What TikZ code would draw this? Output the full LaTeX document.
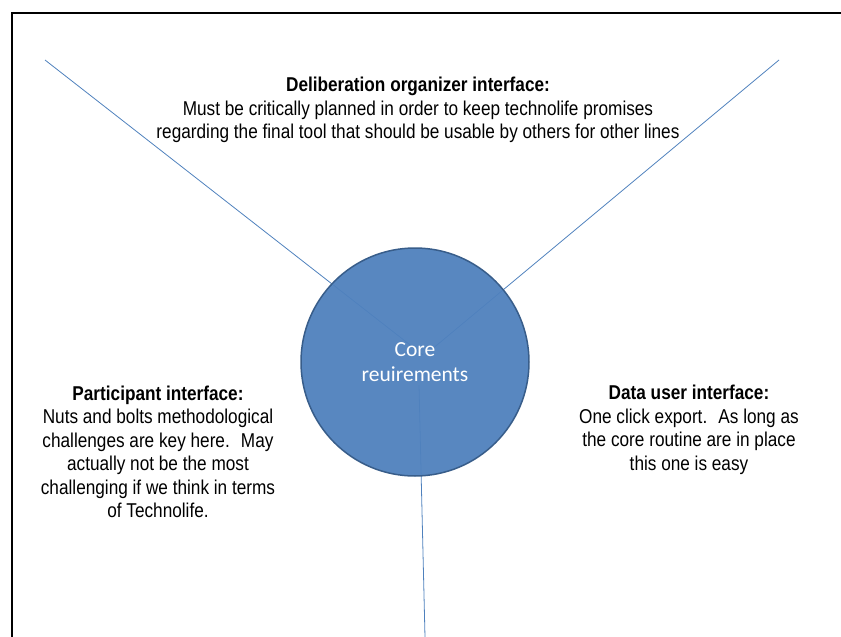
\documentclass[tikz,border=0pt]{standalone}
\usepackage{fontspec}
\setmainfont{Liberation Sans}[FakeStretch=0.86]
\newfontfamily\corefont{Carlito}
\definecolor{coreblue}{HTML}{4F81BD}
\definecolor{coreedge}{HTML}{385D8A}

\begin{document}
\begin{tikzpicture}[x=1pt,y=-1pt,
	spoke/.style={coreblue,line width=0.8pt},
	note/.style={align=center,inner sep=0pt,font=\fontsize{20}{23.5}\selectfont}]
	\useasboundingbox (0,0) rectangle (841,637);
	% page frame
	\draw[line width=2pt] (12,637) -- (12,13) -- (841,13);

	% spokes
	\coordinate (ulend) at (45,60);
	\coordinate (urend) at (779,60);
	\coordinate (bend) at (425,637);
	\coordinate (ulhub) at (423,355);
	\coordinate (urhub) at (431,350);
	\coordinate (bhub) at (419,385);
	\draw[spoke] (ulhub) -- (ulend);
	\draw[spoke] (urhub) -- (urend);
	\draw[spoke] (bhub) -- (bend);

	% core
	\node[circle,minimum size=228pt,inner sep=0pt,fill=coreblue,fill opacity=0.95,
		draw=coreedge,line width=1.5pt,text opacity=1,text=white,align=center,
		font=\corefont\fontsize{21.5}{25}\selectfont] (core) at (415,362) {Core\\reuirements};

	% interfaces
	\node[note] (delib) at (418,110) {\textbf{Deliberation organizer interface:}\\
		Must be critically planned in order to keep technolife promises\\
		regarding the final tool that should be usable by others for other lines};
	\node[note] (partic) at (158,452) {\textbf{Participant interface:}\\
		Nuts and bolts methodological\\
		challenges are key here.~ May\\
		actually not be the most\\
		challenging if we think in terms\\
		of Technolife.};
	\node[note] (datauser) at (689,430) {\textbf{Data user interface:}\\
		One click export.~ As long as\\
		the core routine are in place\\
		this one is easy};
\end{tikzpicture}
\end{document}
